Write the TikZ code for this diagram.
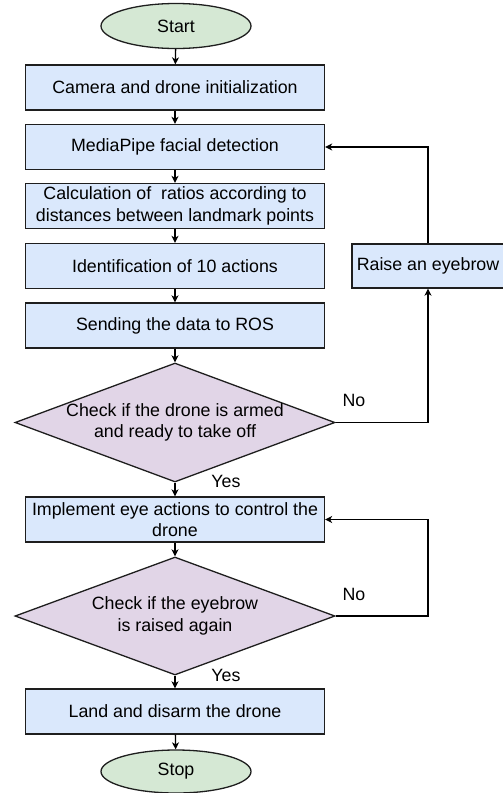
\documentclass[tikz,border=0pt]{standalone}
\usepackage{fontspec}
\setmainfont{Liberation Sans}
\usetikzlibrary{shapes.geometric,arrows.meta}
\definecolor{boxblue}{HTML}{DAE8FC}
\definecolor{diapink}{HTML}{E1D5E7}
\definecolor{ovalgreen}{HTML}{D5E8D4}
\definecolor{edge}{HTML}{1E1E1E}
\begin{document}
\begin{tikzpicture}[x=1pt,y=-1pt,
  every node/.style={font=\fontsize{17.8}{21.5}\selectfont, text=black},
  procbox/.style={draw=edge, fill=boxblue, line width=1.3pt, minimum width=299pt, minimum height=45pt, inner sep=0pt, align=center},
  sidebox/.style={procbox, minimum width=152pt, minimum height=44pt},
  oval/.style={draw=edge, fill=ovalgreen, line width=1.3pt, ellipse, minimum width=150pt, minimum height=45pt, inner sep=0pt},
  decision/.style={draw=edge, fill=diapink, line width=1.3pt, diamond, inner sep=0pt, minimum width=320pt, minimum height=119pt},
  arr/.style={draw=black, line width=1.3pt, -{Stealth[length=7pt,width=7pt,inset=2pt]}},
  lbl/.style={inner sep=0pt}
]
\useasboundingbox (0,0) rectangle (503,793);

\node[oval] (start) at (176,26) {Start};
\node[procbox] (cam) at (175,87.5) {Camera and drone initialization};
\node[procbox] (media) at (175,147) {MediaPipe facial detection};
\node[procbox] (calc) at (175,206) {Calculation of\ \ ratios according to\\distances between landmark points};
\node[procbox] (ident) at (175,266) {Identification of 10 actions};
\node[procbox] (send) at (175,325.5) {Sending the data to ROS};
\node[decision, label={[align=center]center:Check if the drone is armed\\and ready to take off}] (d1) at (175,422.5) {};
\node[procbox] (impl) at (175,519.5) {Implement eye actions to control the\\drone};
\node[decision, minimum height=118pt, label={[align=center]center:Check if the eyebrow\\is raised again}] (d2) at (175,616) {};
\node[procbox] (land) at (175,711.5) {Land and disarm the drone};
\node[oval, minimum height=43pt] (stop) at (176,771.5) {Stop};
\node[sidebox] (raise) at (428,266) {Raise an eyebrow};

\node[lbl] (no1) at (354,400) {No};
\node[lbl] (yes1) at (226,481) {Yes};
\node[lbl] (no2) at (354,594) {No};
\node[lbl] (yes2) at (226,675) {Yes};

\coordinate (loop2) at (428,519.5);

\draw[arr] (start) -- (cam);
\draw[arr] (cam) -- (media);
\draw[arr] (media) -- (calc);
\draw[arr] (calc) -- (ident);
\draw[arr] (ident) -- (send);
\draw[arr] (send) -- (d1);
\draw[arr] (d1) -- (impl);
\draw[arr] (impl) -- (d2);
\draw[arr] (d2) -- (land);
\draw[arr] (land) -- (stop);
\draw[arr] (d1.east) -| (raise.south);
\draw[arr] (raise.north) |- (media.east);
\draw[arr] (d2.east) -| (loop2) -- (impl.east);
\end{tikzpicture}
\end{document}
